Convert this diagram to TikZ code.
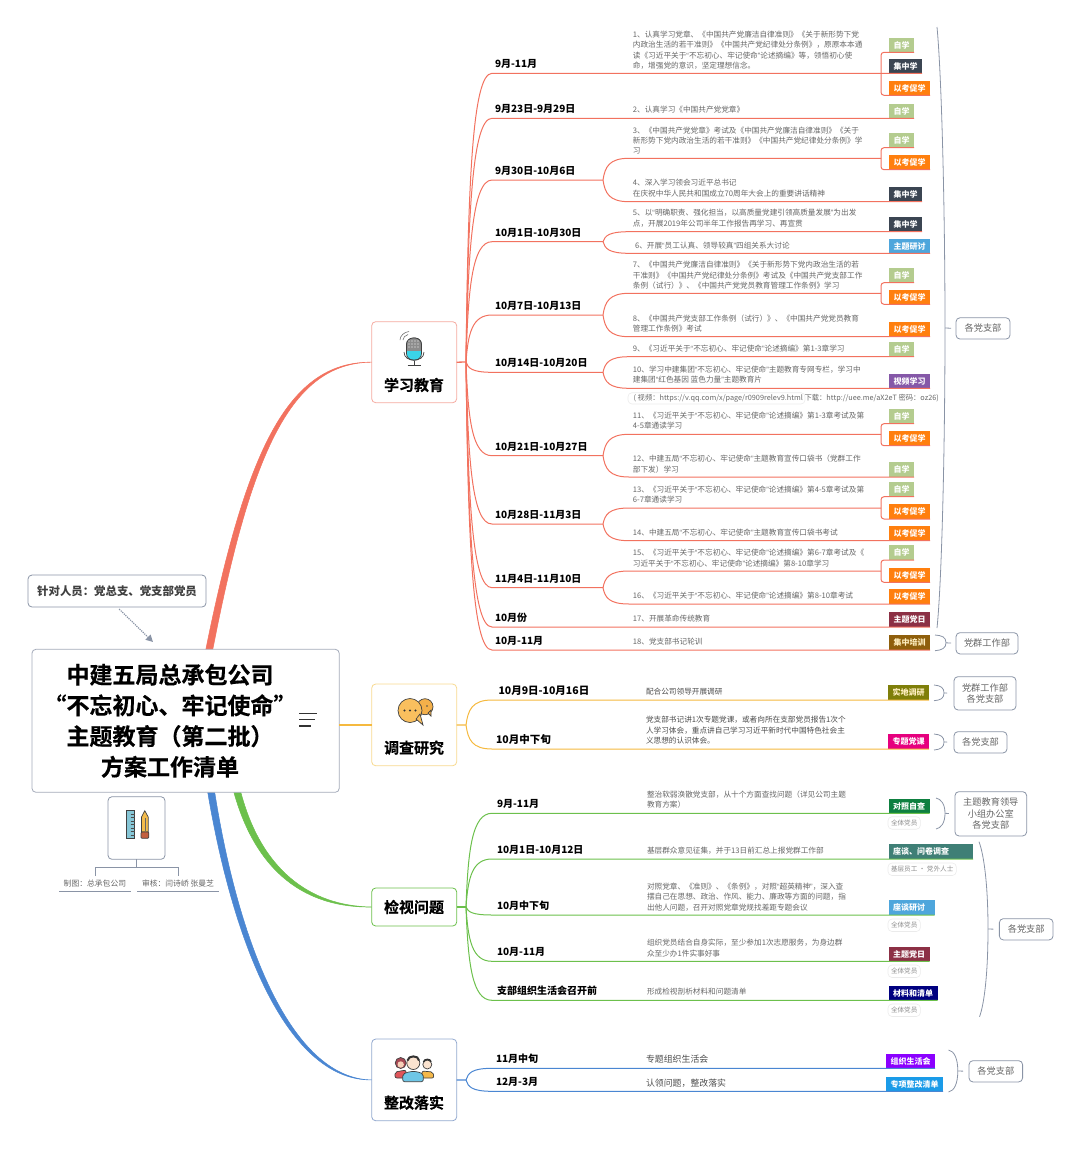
\documentclass[tikz,border=0pt]{standalone}
\usepackage{fontspec}
\setmainfont{Noto Sans CJK SC}
\newfontfamily\quotefont{Liberation Sans}
\newfontfamily\heavyfont[UprightFont=* Bold,FakeBold=0.4]{Noto Sans CJK SC}
\newcommand\qa{{\quotefont “}}
\newcommand\qb{{\quotefont ”}}
\usetikzlibrary{calc,arrows.meta}

\definecolor{rl}{HTML}{F2725F}
\definecolor{yl}{HTML}{F5B93F}
\definecolor{gl}{HTML}{6CC04C}
\definecolor{bl}{HTML}{4A86D2}
\definecolor{edge}{HTML}{8A94A6}
\definecolor{ink}{HTML}{666666}
\definecolor{mainedge}{HTML}{A4ABBA}
\definecolor{s1edge}{HTML}{F5AAA0}
\definecolor{s2edge}{HTML}{F8DA90}
\definecolor{s4edge}{HTML}{93A9CF}
\definecolor{czixue}{HTML}{B4CC8F}
\definecolor{cjizhong}{HTML}{3B4552}
\definecolor{cyikao}{HTML}{FF7F0E}
\definecolor{cyantao}{HTML}{4EA6DC}
\definecolor{cshipin}{HTML}{8558A8}
\definecolor{cdangri}{HTML}{8C3045}
\definecolor{cpeixun}{HTML}{8F5F0C}
\definecolor{cdiaoyan}{HTML}{7F7F0A}
\definecolor{cdangke}{HTML}{E6007E}
\definecolor{czicha}{HTML}{0E8040}
\definecolor{cwenjuan}{HTML}{3F7F76}
\definecolor{cqingdan}{HTML}{000080}
\definecolor{cshenghuo}{HTML}{8B00FF}
\definecolor{czhenggai}{HTML}{1A9BE8}
\definecolor{cream}{HTML}{FFEFC0}
\definecolor{rulerc}{HTML}{86C6D6}
\definecolor{pencilc}{HTML}{F4BC4C}
\definecolor{rubberc}{HTML}{C4603F}
\definecolor{cyanc}{HTML}{3AD4E8}
\definecolor{bubblea}{HTML}{F4B04A}
\definecolor{bubbleb}{HTML}{F9BF5E}
\definecolor{hairc}{HTML}{A84A55}
\definecolor{skina}{HTML}{F6D0B8}
\definecolor{skinb}{HTML}{FBE3CF}
\definecolor{shirta}{HTML}{E0555A}
\definecolor{shirtb}{HTML}{F4B84A}
\definecolor{shirtc}{HTML}{6EC6E6}

\tikzset{
  bough/.style={to path={let \p1=(\tikztostart),\p2=(\tikztotarget) in
    .. controls (\x1+2pt,{\y1+.6*(\y2-\y1)}) and (\x1+6pt,\y2) .. (\x1+26pt,\y2) -- (\p2) \tikztonodes}},
  thy/.style={draw,rounded corners=4pt,fill=white,line width=.8pt,minimum width=85pt},
  thytext/.style={font=\fontsize{15}{17}\heavyfont,text=black},
  date/.style={anchor=south west,inner xsep=0pt,inner ysep=4.6pt,font=\fontsize{10}{12}\selectfont\bfseries,text=black},
  task/.style={anchor=west,inner sep=0pt,align=left,text=ink,font=\fontsize{7.65}{10.3}\selectfont},
  taskb/.style={task,text=black!70,font=\fontsize{8.9}{11}\selectfont},
  tagbox/.style={anchor=south west,inner xsep=4.5pt,inner ysep=0pt,minimum height=14.6pt,text=white,font=\fontsize{8}{9}\selectfont\bfseries},
  zixue/.style={tagbox,fill=czixue},
  jizhong/.style={tagbox,fill=cjizhong},
  yikao/.style={tagbox,fill=cyikao},
  yantao/.style={tagbox,fill=cyantao},
  shipin/.style={tagbox,fill=cshipin},
  dangri/.style={tagbox,fill=cdangri},
  peixun/.style={tagbox,fill=cpeixun},
  member/.style={anchor=north west,draw=black!8,line width=.6pt,rounded corners=4pt,inner xsep=3pt,inner ysep=0pt,minimum height=12.5pt,text=black!45,font=\fontsize{6.6}{8}\selectfont},
  owner/.style={draw=edge,rounded corners=4pt,line width=.8pt,text=ink,inner sep=0pt,align=center,font=\fontsize{9.2}{11.5}\selectfont},
  brace/.style={draw=edge,line width=.8pt},
  icon/.style={draw=black!75,line width=.7pt}
}

\begin{document}
\begin{tikzpicture}[x=1pt,y=-1pt,line width=1pt,every node/.style={outer sep=0pt}]
  \useasboundingbox (0,0) rectangle (1080,1149);

  % centre and the four topics
  \node[thy,draw=s1edge,minimum height=81pt] (s1) at (414.2,362.2) {};
  \node[thy,draw=s2edge,minimum height=81.7pt] (s2) at (414.2,724.9) {};
  \node[thy,draw=gl,minimum height=38pt] (s3) at (414.2,907) {};
  \node[thy,draw=s4edge,minimum height=81.7pt] (s4) at (414.2,1079.9) {};

  \coordinate (m1a) at (205.5,651);
  \coordinate (m1b) at (212.5,651);
  \coordinate (m3a) at (233.5,791);
  \coordinate (m3b) at (240.5,791);
  \coordinate (m4a) at (207.5,791);
  \coordinate (m4b) at (214.5,791);
  \draw[rl,fill=rl,line width=.5pt] (m1a) .. controls (246,450) and (288,361.2) .. (s1.west) .. controls (291,362.8) and (251,452) .. (m1b) -- cycle;
  \draw[gl,fill=gl,line width=.5pt] (m3a) .. controls (256,873) and (306,908) .. (s3.west) .. controls (310,906) and (261,870) .. (m3b) -- cycle;
  \draw[bl,fill=bl,line width=.5pt] (m4a) .. controls (236,960) and (293,1081) .. (s4.west) .. controls (297,1079) and (241,959) .. (m4b) -- cycle;
  \node[thy,draw=mainedge,minimum width=307.3pt,minimum height=143pt] (main) at (185.6,720.8) {};
  \draw[yl,line width=2pt] (main.east|-s2.west) -- (s2.west);

  \node[align=center,inner sep=0pt,font=\fontsize{23}{30.7}\heavyfont] (title) at (170,720.8) {中建五局总承包公司\\“不忘初心、牢记使命”\\主题教育（第二批）\\方案工作清单};
  \draw[black!80,line width=1.3pt] (299,713.3) -- (317,713.3) (299,719.8) -- (315,719.8) (299,726) -- (310.5,726);

  \node[thytext] (s1t) at (414,385) {学习教育};
  \node[thytext] (s2t) at (414,747.7) {调查研究};
  \node[thytext] (s3t) at (414,907) {检视问题};
  \node[thytext] (s4t) at (414,1102.7) {整改落实};

  % note and drawing credits
  \node[draw=edge,rounded corners=4pt,line width=.8pt,minimum width=178pt,minimum height=32pt,inner sep=0pt,text=black!75,font=\fontsize{11.4}{13}\selectfont\bfseries] (n0) at (117,591) {针对人员：党总支、党支部党员};
  \coordinate (a0) at (153,642);
  \draw[edge,densely dotted,line width=1.2pt,shorten <=3pt,-{Triangle[length=7pt,width=7pt]}] (n0.south) -- (a0);

  \node[draw=edge,rounded corners=4pt,line width=.8pt,minimum width=57pt,minimum height=62.6pt,inner sep=0pt] (i0) at (136.5,828) {};
  \coordinate (j0) at (136.5,867);
  \node[minimum width=71.7pt,minimum height=15pt,inner sep=0pt,text=ink,font=\fontsize{7.8}{9}\selectfont] (c1) at (94.9,883.5) {制图：总承包公司};
  \node[minimum width=82pt,minimum height=15pt,inner sep=0pt,text=ink,font=\fontsize{7.8}{9}\selectfont] (c2) at (178,883.5) {审核：闫诗峤 张曼芝};
  \draw[edge,line width=.7pt] (i0.south) -- (j0);
  \draw[edge,line width=.7pt] (c1.north) |- (j0) -| (c2.north);
  \draw[edge,line width=.8pt] (c1.south west) -- (c1.south east);
  \draw[edge,line width=.8pt] (c2.south west) -- (c2.south east);

  \draw[icon,fill=rulerc] (126.7,810.7) rectangle (134.7,838.3);
  \foreach \y in {814,817.5,821,824.5,828,831.5,835} \draw[black!70,line width=.4pt] (130.7,\y) -- (134.7,\y);
  \draw[icon,fill=pencilc] (141.5,817) -- (144.8,810.7) -- (148.2,817) -- (148.2,832) -- (141.5,832) -- cycle;
  \draw[black!60,line width=.5pt] (144.8,818) -- (144.8,831);
  \draw[icon,fill=rubberc,rounded corners=1pt] (141,832) rectangle (148.8,838.3);

  % study branch
  \coordinate (f1) at (466,362);
  \draw[rl,line width=1.3pt] (s1.east) -- (f1);

  \node[date] (d1) at (495,73.3) {9月-11月};
  \node[task] (i1) at (632.9,50.2) {1、认真学习党章、《中国共产党廉洁自律准则》《关于新形势下党\\内政治生活的若干准则》《中国共产党纪律处分条例》，原原本本通\\读《习近平关于\qa 不忘初心、牢记使命\qb 论述摘编》等，领悟初心使\\命，增强党的意识，坚定理想信念。};
  \node[zixue] (t1a) at (889,52.3) {自学};
  \node[jizhong] (t1b) at (889,73.3) {集中学};
  \node[yikao] (t1c) at (889,95.3) {以考促学};
  \coordinate (k1) at (881,73.3);
  \draw[rl] (f1) to[bough] (d1.south west) -- (k1) -- (t1b.south east);
  \draw[rl,rounded corners=3pt] (t1a.south east) -| (k1) |- (t1c.south east);

  \node[date] (d2) at (495,118.3) {9月23日-9月29日};
  \node[task] (i2) at (632.9,110) {2、认真学习《中国共产党党章》};
  \node[zixue] (t2a) at (889,118.3) {自学};
  \draw[rl] (f1) to[bough] (d2.south west) -- (t2a.south east);

  \node[date] (d3) at (495,180) {9月30日-10月6日};
  \coordinate (f3) at (603,180);
  \node[task] (i3) at (632.9,140.5) {3、《中国共产党党章》考试及《中国共产党廉洁自律准则》《关于\\新形势下党内政治生活的若干准则》《中国共产党纪律处分条例》学\\习};
  \node[task] (i4) at (632.9,188) {4、深入学习领会习近平总书记\\在庆祝中华人民共和国成立70周年大会上的重要讲话精神};
  \node[zixue] (t3a) at (889,147.7) {自学};
  \node[yikao] (t3b) at (889,169.7) {以考促学};
  \node[jizhong] (t4a) at (889,201.7) {集中学};
  \coordinate (k3) at (881,158.3);
  \draw[rl] (f1) to[bough] (d3.south west) -- (f3);
  \draw[rl] (f3) to[bough] (k3);
  \draw[rl] (f3) to[bough] (t4a.south east);
  \draw[rl,rounded corners=3pt] (t3a.south east) -| (k3) |- (t3b.south east);

  \node[date] (d4) at (495,241.7) {10月1日-10月30日};
  \coordinate (f4) at (603,241.7);
  \node[task] (i5) at (632.9,218.3) {5、以\qa 明确职责、强化担当，以高质量党建引领高质量发展\qb 为出发\\点，开展2019年公司半年工作报告再学习、再宣贯};
  \node[task] (i6) at (635,245.3) {6、开展\qa 员工认真、领导较真\qb 四组关系大讨论};
  \node[jizhong] (t5a) at (889,231.7) {集中学};
  \node[yantao] (t6a) at (889,253.3) {主题研讨};
  \draw[rl] (f1) to[bough] (d4.south west) -- (f4);
  \draw[rl] (f4) to[bough] (t5a.south east);
  \draw[rl] (f4) to[bough] (t6a.south east);

  \node[date] (d5) at (495,315) {10月7日-10月13日};
  \coordinate (f5) at (603,315);
  \node[task] (i7) at (632.9,275.3) {7、《中国共产党廉洁自律准则》《关于新形势下党内政治生活的若\\干准则》《中国共产党纪律处分条例》考试及《中国共产党支部工作\\条例（试行）》、《中国共产党党员教育管理工作条例》学习};
  \node[task] (i8) at (632.9,323.3) {8、《中国共产党支部工作条例（试行）》、《中国共产党党员教育\\管理工作条例》考试};
  \node[zixue] (t7a) at (889,282.7) {自学};
  \node[yikao] (t7b) at (889,304.3) {以考促学};
  \node[yikao] (t8a) at (889,336.7) {以考促学};
  \coordinate (k5) at (881,293.3);
  \draw[rl] (f1) to[bough] (d5.south west) -- (f5);
  \draw[rl] (f5) to[bough] (k5);
  \draw[rl] (f5) to[bough] (t8a.south east);
  \draw[rl,rounded corners=3pt] (t7a.south east) -| (k5) |- (t7b.south east);

  \node[date] (d6) at (495,372.3) {10月14日-10月20日};
  \coordinate (f6) at (603,372.3);
  \node[task] (i9) at (632.9,348.3) {9、《习近平关于\qa 不忘初心、牢记使命\qb 论述摘编》第1-3章学习};
  \node[task] (i10) at (632.9,374.8) {10、学习中建集团\qa 不忘初心、牢记使命\qb 主题教育专网专栏，学习中\\建集团\qa 红色基因 蓝色力量\qb 主题教育片};
  \node[zixue] (t9a) at (889,356.7) {自学};
  \node[shipin] (t10a) at (889,388.3) {视频学习};
  \draw[rl] (f1) to[bough] (d6.south west) -- (f6);
  \draw[rl] (f6) to[bough] (t9a.south east);
  \draw[rl] (f6) to[bough] (t10a.south east);
  \draw[black!8,line width=.6pt,rounded corners=4pt] (628,392.7) rectangle (805,404);
  \node[task,font=\fontsize{7.3}{9}\selectfont] (i10n) at (633.6,398.3) {( 视频：https://v.qq.com/x/page/r0909relev9.html  下载：http://uee.me/aX2eT 密码：oz26)};

  \node[date] (d7) at (495,455.7) {10月21日-10月27日};
  \coordinate (f7) at (603,455.7);
  \node[task] (i11) at (632.9,420.8) {11、《习近平关于\qa 不忘初心、牢记使命\qb 论述摘编》第1-3章考试及第\\4-5章通读学习};
  \node[task] (i12) at (632.9,464) {12、中建五局\qa 不忘初心、牢记使命\qb 主题教育宣传口袋书（党群工作\\部下发）学习};
  \node[zixue] (t11a) at (889,423.7) {自学};
  \node[yikao] (t11b) at (889,445.7) {以考促学};
  \node[zixue] (t12a) at (889,477) {自学};
  \coordinate (k7) at (881,434.3);
  \draw[rl] (f1) to[bough] (d7.south west) -- (f7);
  \draw[rl] (f7) to[bough] (k7);
  \draw[rl] (f7) to[bough] (t12a.south east);
  \draw[rl,rounded corners=3pt] (t11a.south east) -| (k7) |- (t11b.south east);

  \node[date] (d8) at (495,524) {10月28日-11月3日};
  \coordinate (f8) at (603,524);
  \node[task] (i13) at (632.9,494.3) {13、《习近平关于\qa 不忘初心、牢记使命\qb 论述摘编》第4-5章考试及第\\6-7章通读学习};
  \node[task] (i14) at (632.9,532.3) {14、中建五局\qa 不忘初心、牢记使命\qb 主题教育宣传口袋书考试};
  \node[zixue] (t13a) at (889,496.7) {自学};
  \node[yikao] (t13b) at (889,519) {以考促学};
  \node[yikao] (t14a) at (889,540.7) {以考促学};
  \coordinate (k8) at (881,508);
  \draw[rl] (f1) to[bough] (d8.south west) -- (f8);
  \draw[rl] (f8) to[bough] (k8);
  \draw[rl] (f8) to[bough] (t14a.south east);
  \draw[rl,rounded corners=3pt] (t13a.south east) -| (k8) |- (t13b.south east);

  \node[date] (d9) at (495,587.7) {11月4日-11月10日};
  \coordinate (f9) at (603,587.7);
  \node[task] (i15) at (632.9,558) {15、《习近平关于\qa 不忘初心、牢记使命\qb 论述摘编》第6-7章考试及《\\习近平关于\qa 不忘初心、牢记使命\qb 论述摘编》第8-10章学习};
  \node[task] (i16) at (632.9,595.7) {16、《习近平关于\qa 不忘初心、牢记使命\qb 论述摘编》第8-10章考试};
  \node[zixue] (t15a) at (889,560) {自学};
  \node[yikao] (t15b) at (889,582.3) {以考促学};
  \node[yikao] (t16a) at (889,604) {以考促学};
  \coordinate (k9) at (881,571);
  \draw[rl] (f1) to[bough] (d9.south west) -- (f9);
  \draw[rl] (f9) to[bough] (k9);
  \draw[rl] (f9) to[bough] (t16a.south east);
  \draw[rl,rounded corners=3pt] (t15a.south east) -| (k9) |- (t15b.south east);

  \node[date] (d10) at (495,627) {10月份};
  \node[task] (i17) at (632.9,618.7) {17、开展革命传统教育};
  \node[dangri] (t17a) at (889,627) {主题党日};
  \draw[rl] (f1) to[bough] (d10.south west) -- (t17a.south east);

  \node[date] (d11) at (495,650) {10月-11月};
  \node[task] (i18) at (632.9,641.7) {18、党支部书记轮训};
  \node[peixun,text=cream] (t18a) at (889,650) {集中培训};
  \draw[rl] (f1) to[bough] (d11.south west) -- (t18a.south east);

  \node[owner,minimum width=54pt,minimum height=21.3pt] (o1) at (983,328.4) {各党支部};
  \node[owner,minimum width=62pt,minimum height=21.3pt] (o2) at (987,643.3) {党群工作部};
  \coordinate (b1t) at (937,27);
  \coordinate (b1m) at (945,328);
  \coordinate (b1b) at (937,628);
  \draw[brace] (b1t) .. controls (942,80) and (945,220) .. (b1m) .. controls (945,440) and (942,580) .. (b1b);
  \draw[brace,shorten >=5pt] (b1m) -- (o1.west);
  \coordinate (b2t) at (935,635);
  \coordinate (b2m) at (946,642.8);
  \coordinate (b2b) at (935,650.7);
  \draw[brace] (b2t) .. controls (942,635.5) and (946,637) .. (b2m) .. controls (946,648) and (942,650.2) .. (b2b);
  \draw[brace,shorten >=5pt] (b2m) -- (o2.west);

  % research branch
  \coordinate (f2) at (466,725);
  \draw[yl,line width=1.3pt] (s2.east) -- (f2);

  \node[date,font=\fontsize{10.5}{12}\selectfont\bfseries] (d12) at (498.5,700) {10月9日-10月16日};
  \node[task,text=black!70] (i19) at (646,691.7) {配合公司领导开展调研};
  \node[tagbox,fill=cdiaoyan,text=cream] (t19a) at (888,700) {实地调研};
  \draw[yl] (f2) to[bough] (d12.south west) -- (t19a.south east);

  \node[date,font=\fontsize{10.5}{12}\selectfont\bfseries] (d13) at (496,749) {10月中下旬};
  \node[task,text=black!70] (i20) at (646,730.3) {党支部书记讲1次专题党课，或者向所在支部党员报告1次个\\人学习体会，重点讲自己学习习近平新时代中国特色社会主\\义思想的认识体会。};
  \node[tagbox,fill=cdangke] (t20a) at (888,749) {专题党课};
  \draw[yl] (f2) to[bough] (d13.south west) -- (t20a.south east);

  \node[owner,minimum width=62pt,minimum height=33.3pt] (o3) at (985,693.3) {党群工作部\\各党支部};
  \node[owner,minimum width=53pt,minimum height=21.3pt] (o4) at (980.5,742.3) {各党支部};
  \coordinate (b3t) at (934,685);
  \coordinate (b3m) at (944,693);
  \coordinate (b3b) at (934,700.7);
  \draw[brace] (b3t) .. controls (941,685.5) and (944,688) .. (b3m) .. controls (944,698) and (941,700.2) .. (b3b);
  \draw[brace,shorten >=7pt] (b3m) -- (o3.west);
  \coordinate (b4t) at (934,734);
  \coordinate (b4m) at (944,742);
  \coordinate (b4b) at (934,750);
  \draw[brace] (b4t) .. controls (941,734.5) and (944,737) .. (b4m) .. controls (944,747) and (941,749.5) .. (b4b);
  \draw[brace,shorten >=7pt] (b4m) -- (o4.west);

  % inspection branch
  \coordinate (f10) at (466,907);
  \draw[gl,line width=1.3pt] (s3.east) -- (f10);

  \node[date] (d14) at (497,813.3) {9月-11月};
  \node[task] (i21) at (647,799.5) {整治软弱涣散党支部，从十个方面查找问题（详见公司主题\\教育方案）};
  \node[tagbox,fill=czicha] (t21a) at (888.5,813.3) {对照自查};
  \node[member] (u21) at (888,816.7) {全体党员};
  \draw[gl] (f10) to[bough] (d14.south west) -- (t21a.south east);

  \node[date] (d15) at (497,859) {10月1日-10月12日};
  \node[task] (i22) at (647,851) {基层群众意见征集，并于13日前汇总上报党群工作部};
  \node[tagbox,fill=cwenjuan,minimum width=84.5pt] (t22a) at (888.5,859) {\makebox[75.5pt][l]{座谈、问卷调查}};
  \node[member] (u22) at (888,863) {基层员工 · 党外人士};
  \draw[gl] (f10) to[bough] (d15.south west) -- (t22a.south east);

  \node[date] (d16) at (497,915) {10月中下旬};
  \node[task] (i23) at (647,897) {对照党章、《准则》、《条例》，对照\qa 超英精神\qb ，深入查\\摆自己在思想、政治、作风、能力、廉政等方面的问题，指\\出他人问题，召开对照党章党规找差距专题会议};
  \node[tagbox,fill=cyantao,minimum width=46pt] (t23a) at (888.5,915) {\makebox[37pt][l]{座谈研讨}};
  \node[member] (u23) at (888,919) {全体党员};
  \draw[gl] (f10) to[bough] (d16.south west) -- (t23a.south east);

  \node[date] (d17) at (497,961.3) {10月-11月};
  \node[task] (i24) at (647,948) {组织党员结合自身实际，至少参加1次志愿服务，为身边群\\众至少办1件实事好事};
  \node[dangri] (t24a) at (888.5,961.3) {主题党日};
  \node[member] (u24) at (888,965) {全体党员};
  \draw[gl] (f10) to[bough] (d17.south west) -- (t24a.south east);

  \node[date] (d18) at (497,1000.3) {支部组织生活会召开前};
  \node[task] (i25) at (647,992) {形成检视剖析材料和问题清单};
  \node[tagbox,fill=cqingdan] (t25a) at (888.5,1000.3) {材料和清单};
  \node[member] (u25) at (888,1004) {全体党员};
  \draw[gl] (f10) to[bough] (d18.south west) -- (t25a.south east);

  \node[owner,minimum width=71.7pt,minimum height=44.3pt] (o5) at (990.8,813.8) {主题教育领导\\小组办公室\\各党支部};
  \node[owner,minimum width=53.7pt,minimum height=21.3pt] (o6) at (1026.2,929.3) {各党支部};
  \coordinate (b5t) at (936,798);
  \coordinate (b5m) at (945,813.3);
  \coordinate (b5b) at (936,829);
  \draw[brace] (b5t) .. controls (941,799) and (945,804) .. (b5m) .. controls (945,823) and (941,828) .. (b5b);
  \draw[brace,shorten >=6pt] (b5m) -- (o5.west);
  \coordinate (b6t) at (979,841.7);
  \coordinate (b6m) at (988,929);
  \coordinate (b6b) at (979.5,1016.7);
  \draw[brace] (b6t) .. controls (984,855) and (988,885) .. (b6m) .. controls (988,975) and (984,1005) .. (b6b);
  \draw[brace,shorten >=6pt] (b6m) -- (o6.west);

  % rectification branch
  \coordinate (f11) at (466,1080);
  \draw[bl,line width=1.3pt] (s4.east) -- (f11);

  \node[date] (d19) at (496,1068.3) {11月中旬};
  \node[taskb] (i26) at (646,1059.3) {专题组织生活会};
  \node[tagbox,fill=cshenghuo] (t26a) at (886,1068.3) {组织生活会};
  \draw[bl] (f11) to[bough] (d19.south west) -- (t26a.south east);

  \node[date] (d20) at (496,1091.3) {12月-3月};
  \node[taskb] (i27) at (646,1082.7) {认领问题，整改落实};
  \node[tagbox,fill=czhenggai] (t27a) at (886,1091.3) {专项整改清单};
  \draw[bl] (f11) to[bough] (d20.south west) -- (t27a.south east);

  \node[owner,minimum width=53.6pt,minimum height=21.3pt] (o7) at (995.8,1071.3) {各党支部};
  \coordinate (b7t) at (948.5,1050);
  \coordinate (b7m) at (957.8,1071);
  \coordinate (b7b) at (948.5,1092);
  \draw[brace] (b7t) .. controls (954,1051) and (957.8,1058) .. (b7m) .. controls (957.8,1084) and (954,1091) .. (b7b);
  \draw[brace,shorten >=6pt] (b7m) -- (o7.west);

  % topic icons
  \begin{scope}
    \draw[icon,fill=cyanc,rounded corners=6.5pt] (406.5,338) rectangle (421.5,360);
    \clip (405,336) rectangle (423,350);
    \draw[icon,fill=black!45,rounded corners=6.5pt] (406.5,338) rectangle (421.5,360);
  \end{scope}
  \foreach \x in {409,412,415,418} \foreach \y in {341,344,347} \fill[white] (\x,\y) circle (.6pt);
  \draw[icon] (404,352) .. controls (404,363) and (424,363) .. (424,352);
  \draw[icon] (414,361) -- (414,365);
  \draw[icon] (407.5,365) -- (420.5,365);
  \draw[black!55,line width=.6pt] (400,340) .. controls (400,336) and (404,332) .. (409,331.5);
  \draw[black!55,line width=.6pt] (403,340) .. controls (403,338) and (405,335) .. (408,334.5);

  \draw[icon,fill=bubblea] (425,706.7) circle (8pt);
  \draw[icon,fill=bubblea] (428,713) -- (431,716) -- (431,710) -- cycle;
  \fill[black!70] (427,706) circle (.9pt);
  \draw[icon,fill=bubbleb] (410,710.5) circle (12pt);
  \draw[icon,fill=bubbleb] (416,719) -- (423,725) -- (420,714) -- cycle;
  \fill[bubbleb] (414,716) circle (3pt);
  \foreach \x in {404.5,410,415.5} \fill[black!80] (\x,710.5) circle (1.2pt);

  \draw[icon,fill=hairc] (400.7,1063) circle (5.5pt);
  \fill[skina] (400.7,1064.5) circle (3.2pt);
  \draw[icon,fill=shirta,rounded corners=2pt] (395,1078) -- (395,1072) -- (406,1070) -- (406,1078) -- cycle;
  \draw[icon,fill=shirtb,rounded corners=2pt] (422,1078) -- (422,1071) -- (433,1072) -- (434,1078) -- cycle;
  \draw[icon,fill=skinb] (427.3,1064.5) circle (4.5pt);
  \draw[black!80,line width=1.5pt] (423.5,1062) .. controls (424,1058.5) and (431,1058.5) .. (431,1062);
  \draw[icon,fill=shirtc,rounded corners=2pt] (402.7,1081.7) -- (402.7,1074) -- (410,1071.5) -- (417,1071.5) -- (423.3,1074) -- (423.3,1081.7) -- cycle;
  \draw[icon,fill=skinb] (413.3,1063) circle (6.5pt);
  \draw[black!80,line width=2pt] (407.5,1060.5) .. controls (408,1055) and (419,1055) .. (419,1060.5);
\end{tikzpicture}
\end{document}
